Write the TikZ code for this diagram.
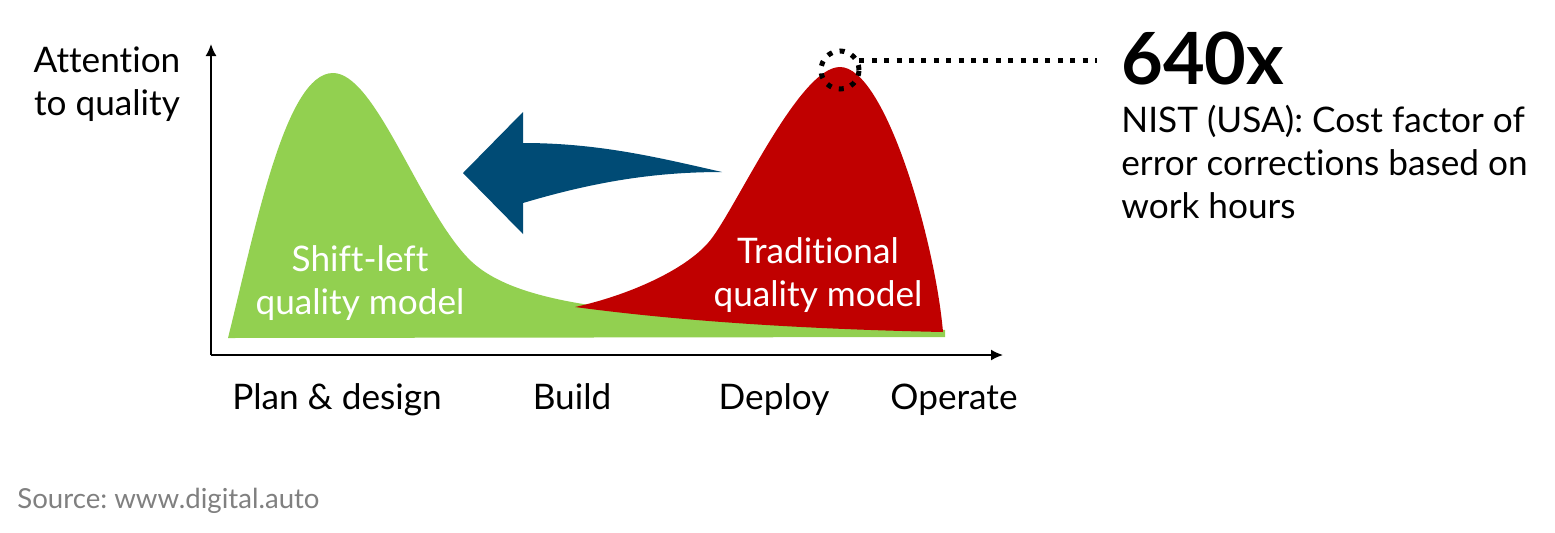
\documentclass[tikz,border=0pt]{standalone}
\usepackage{fontspec}
\setmainfont{Lato}[Ligatures=NoCommon]
\usetikzlibrary{positioning,arrows.meta}
\definecolor{shiftgreen}{HTML}{92D050}
\definecolor{tradred}{HTML}{C00000}
\definecolor{arrowblue}{HTML}{004B75}
\definecolor{sourcegray}{HTML}{808080}
\frenchspacing
\tikzset{
  axis/.style={line width=0.8pt, -{Latex[length=6pt,width=5.5pt]}},
  label/.style={font=\fontsize{17.6}{21.5}\selectfont, inner sep=0pt},
  inlabel/.style={label, text=white, align=center},
  dotline/.style={line width=2.5pt, dash pattern=on 2.5pt off 3.7pt},
  dotring/.style={circle, draw, line width=2.5pt, dash pattern=on 2.5pt off 3.8pt, inner sep=0pt},
}
\begin{document}
\begin{tikzpicture}[x=0.5pt,y=-0.5pt]
   \useasboundingbox (0,0) rectangle (1555,532);
   % curves
   \fill[shiftgreen] (228,338) .. controls (255,230) and (285,73) .. (333,73)
      .. controls (375,73) and (418,205) .. (467,257)
      .. controls (492,284) and (540,300) .. (620,309)
      .. controls (750,320) and (850,326) .. (945,330) -- (945,337) -- cycle;
   \fill[tradred] (575,307) .. controls (630,295) and (690,268) .. (712,238)
      .. controls (740,200) and (800,67) .. (840,67)
      .. controls (885,67) and (935,240) .. (943,332)
      .. controls (800,329) and (680,321) .. (575,307) -- cycle;
   % shift arrow
   \fill[arrowblue] (463,173) -- (523,112) -- (523,143)
      .. controls (600,143) and (660,158) .. (722,172)
      .. controls (660,172) and (600,180) .. (523,203) -- (523,234) -- cycle;
   % axes
   \coordinate (origin) at (211,355);
   \coordinate (ytop) at (211,44);
   \coordinate (xend) at (1003,355);
   \draw[axis] (origin) -- (ytop);
   \draw[axis] (origin) -- (xend);
   \node[label, align=center, anchor=base] (attn) at (107,115) {Attention\\to quality};
   \node[label, anchor=base] (plan) at (337,409) {Plan \& design};
   \node[label, anchor=base] (build) at (572,409) {Build};
   \node[label, anchor=base] (deploy) at (774,409) {Deploy};
   \node[label, anchor=base] (operate) at (954,409) {Operate};
   \node[inlabel] (shift) at (360,283) {Shift-left\\quality model};
   \node[inlabel] (trad) at (818,275) {Traditional\\quality model};
   % peak callout
   \node[dotring, minimum size=19pt] (peak) at (840,70) {};
   \node[font=\fontsize{36}{40}\selectfont\bfseries, anchor=base west, inner xsep=12pt, inner ysep=0pt] (factor) at (1097,84) {640x};
   \draw[dotline] (peak.25) -- (peak.25 -| factor.west);
   \node[label, align=left, anchor=north west] (nist) at (1121,105) {NIST (USA): Cost factor of\\error corrections based on\\work hours};
   \node[font=\fontsize{13.8}{16}\selectfont, text=sourcegray, anchor=base west, inner sep=0pt] (source) at (17,508) {Source: www.digital.auto};
\end{tikzpicture}
\end{document}
